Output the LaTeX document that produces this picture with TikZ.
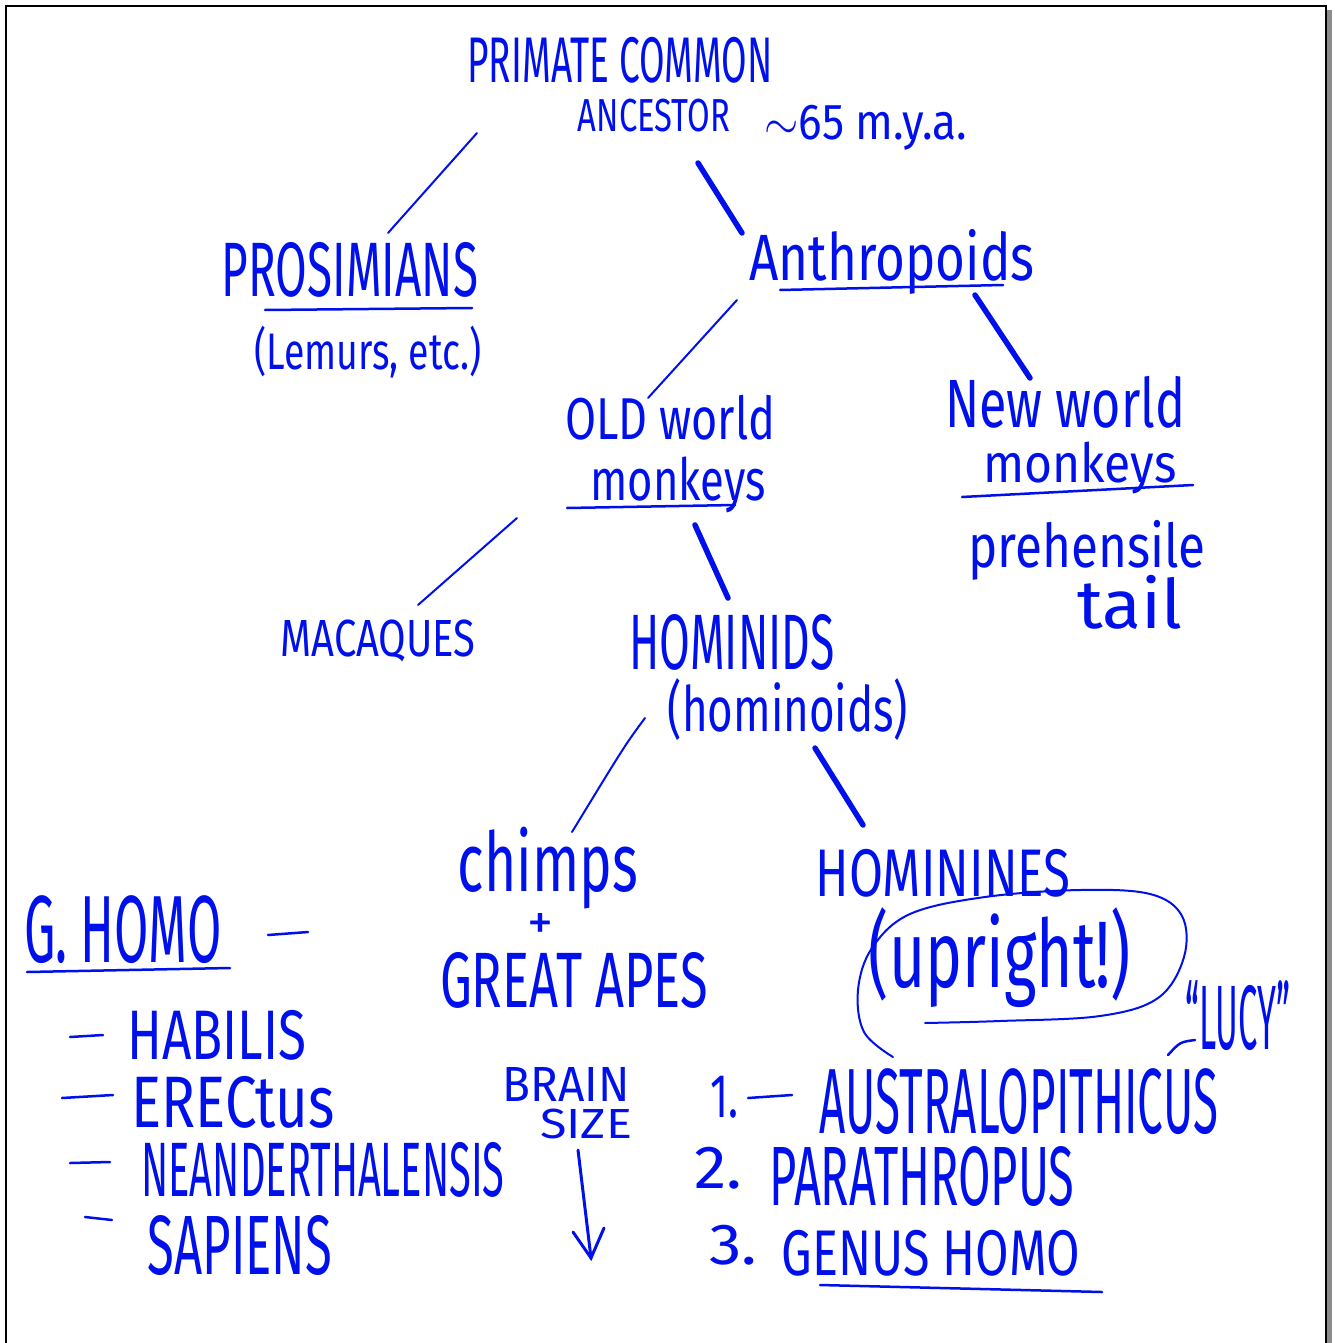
\documentclass[tikz,border=0pt]{standalone}
\usepackage{fontspec}
\setmainfont{Fira Sans}
\usepackage{graphicx}
\definecolor{ink}{RGB}{0,16,235}
\definecolor{shadowgray}{RGB}{140,140,140}
\tikzset{
  hw/.style={inner sep=0pt, text=ink},
  lnthin/.style={draw=ink, line width=2pt, line cap=round},
  lnthick/.style={draw=ink, line width=5.5pt, line cap=round},
  ulink/.style={draw=ink, line width=2.5pt, line cap=round},
}
\newcommand\hwbox[3]{\resizebox*{#1pt}{#2pt}{#3}}
\begin{document}
\begin{tikzpicture}[x=1pt,y=-1pt]
\useasboundingbox (0,0) rectangle (1334,1343);
% frame
\fill[shadowgray] (1327,10) rectangle (1332,1343);
\draw[line width=2.5pt] (6,1343) -- (6,6) -- (1326,6) -- (1326,1343);

% top
\node[hw] (pca1) at (620,60) {\hwbox{305}{46}{PRIMATE COMMON}};
\node[hw] (pca2) at (654,116) {\hwbox{152}{33}{ANCESTOR}};
\node[hw] (mya) at (866,128) {\hwbox{203}{45}{$\sim$65 m.y.a.}};

\node[hw] (pros) at (350,270) {\hwbox{256}{55}{PROSIMIANS}};
\node[hw] (lem) at (368,352) {\hwbox{227}{52}{(Lemurs, etc.)}};
\node[hw] (anth) at (892,262) {\hwbox{285}{65}{Anthropoids}};

\coordinate (c1a) at (477,133); \coordinate (c1b) at (388,233);
\coordinate (c2a) at (698,163); \coordinate (c2b) at (742,233);
\draw[lnthin] (c1a) -- (c1b);
\draw[lnthick] (c2a) -- (c2b);
\coordinate (u1a) at (265,310); \coordinate (u1b) at (472,308);
\draw[ulink] (u1a) -- (u1b);
\coordinate (u2a) at (780,290); \coordinate (u2b) at (1003,285);
\draw[ulink] (u2a) -- (u2b);

% monkeys
\node[hw] (oldw) at (670,418) {\hwbox{210}{45}{OLD world}};
\node[hw] (oldm) at (678,485) {\hwbox{175}{56}{monkeys}};
\node[hw] (neww) at (1065,402) {\hwbox{240}{52}{New world}};
\node[hw] (newm) at (1080,468) {\hwbox{193}{52}{monkeys}};
\node[hw] (preh) at (1087,550) {\hwbox{237}{60}{prehensile}};
\node[hw] (tail) at (1130,602) {\hwbox{105}{54}{tail}};
\coordinate (c3a) at (737,300); \coordinate (c3b) at (648,398);
\coordinate (c4a) at (975,295); \coordinate (c4b) at (1030,378);
\draw[lnthin] (c3a) -- (c3b);
\draw[lnthick] (c4a) -- (c4b);
\coordinate (u3a) at (567,508); \coordinate (u3b) at (735,505);
\draw[ulink] (u3a) -- (u3b);
\coordinate (u4a) at (962,497); \coordinate (u4b) at (1193,485);
\draw[ulink] (u4a) -- (u4b);

% macaques / hominids
\node[hw] (maca) at (378,641) {\hwbox{195}{42}{MACAQUES}};
\node[hw] (homd) at (732,642) {\hwbox{205}{56}{HOMINIDS}};
\node[hw] (homo) at (788,710) {\hwbox{240}{62}{(hominoids)}};
\coordinate (c5a) at (517,518); \coordinate (c5b) at (418,605);
\coordinate (c6a) at (695,525); \coordinate (c6b) at (728,598);
\draw[lnthin] (c5a) -- (c5b);
\draw[lnthick] (c6a) -- (c6b);

% chimps / hominines
\node[hw] (chim) at (548,868) {\hwbox{180}{82}{chimps}};
\node[hw] (plus) at (540,926) {\hwbox{26}{26}{+}};
\node[hw] (gape) at (574,980) {\hwbox{268}{56}{GREAT APES}};
\node[hw] (homn) at (943,873) {\hwbox{255}{48}{HOMININES}};
\node[hw] (upr) at (1000,958) {\hwbox{262}{100}{(upright!)}};
\coordinate (c7a) at (645,718); \coordinate (c7b) at (572,832);
\coordinate (c8a) at (815,748); \coordinate (c8b) at (863,825);
\draw[lnthin] (c7a) .. controls (625,745) .. (c7b);
\draw[lnthick] (c8a) -- (c8b);
\draw[lnthin] plot[smooth, tension=0.6] coordinates {(893,1057) (864,1032) (858,990) (872,948) (910,914) (985,897) (1080,890) (1150,894) (1182,916) (1184,957) (1158,998) (1100,1016) (1000,1021) (925,1023)};

% genus homo list
\node[hw] (ghom) at (123,930) {\hwbox{197}{68}{G. HOMO}};
\coordinate (d0a) at (268,935); \coordinate (d0b) at (308,932);
\draw[ulink] (d0a) -- (d0b);
\coordinate (u5a) at (27,972); \coordinate (u5b) at (230,968);
\draw[ulink] (u5a) -- (u5b);
\node[hw] (habi) at (217,1035) {\hwbox{179}{50}{HABILIS}};
\node[hw] (erec) at (233,1102) {\hwbox{203}{52}{ERECtus}};
\node[hw] (nean) at (323,1170) {\hwbox{363}{55}{NEANDERTHALENSIS}};
\node[hw] (sapi) at (240,1245) {\hwbox{184}{60}{SAPIENS}};
\coordinate (d1a) at (70,1037); \coordinate (d1b) at (103,1035);
\coordinate (d2a) at (62,1098); \coordinate (d2b) at (113,1095);
\coordinate (d3a) at (70,1163); \coordinate (d3b) at (110,1162);
\coordinate (d4a) at (85,1217); \coordinate (d4b) at (112,1220);
\draw[ulink] (d1a) -- (d1b);
\draw[ulink] (d2a) -- (d2b);
\draw[ulink] (d3a) -- (d3b);
\draw[ulink] (d4a) -- (d4b);

% brain size
\node[hw] (brai) at (566,1084) {\hwbox{127}{34}{BRAIN}};
\node[hw] (size) at (586,1124) {\hwbox{92}{30}{SIZE}};
\coordinate (ar1) at (578,1150);
\coordinate (ar2) at (591,1258);
\draw[ulink, line width=3pt] (ar1) -- (ar2);
\coordinate (ah1) at (573,1232); \coordinate (ah2) at (604,1228);
\draw[ulink, line width=3pt] (ah1) -- (ar2) -- (ah2);

% hominine list
\node[hw] (n1) at (724,1097) {\hwbox{28}{42}{1.}};
\coordinate (d5a) at (748,1098); \coordinate (d5b) at (792,1095);
\draw[ulink] (d5a) -- (d5b);
\node[hw] (aust) at (1019,1102) {\hwbox{398}{66}{AUSTRALOPITHICUS}};
\node[hw] (n2) at (718,1168) {\hwbox{48}{42}{2.}};
\node[hw] (para) at (922,1176) {\hwbox{305}{60}{PARATHROPUS}};
\node[hw] (n3) at (733,1245) {\hwbox{48}{40}{3.}};
\node[hw] (genh) at (931,1253) {\hwbox{298}{46}{GENUS HOMO}};
\coordinate (u6a) at (820,1285); \coordinate (u6b) at (1102,1292);
\draw[ulink] (u6a) -- (u6b);

% Lucy
\node[hw] (lucy) at (1238,1016) {\hwbox{105}{70}{“LUCY”}};
\coordinate (lp1) at (1168,1055); \coordinate (lp2) at (1195,1040);
\draw[ulink] (lp1) .. controls (1180,1042) .. (lp2);
\end{tikzpicture}
\end{document}
